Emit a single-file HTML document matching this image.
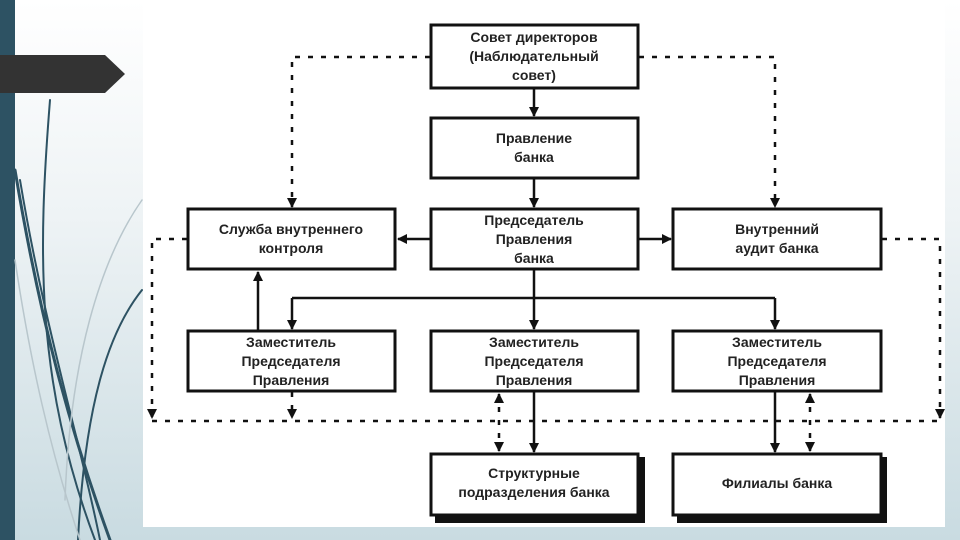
<!DOCTYPE html>
<html><head><meta charset="utf-8"><style>
html,body{margin:0;padding:0;width:960px;height:540px;overflow:hidden}
body{background:linear-gradient(#ffffff 0%,#eef3f5 40%,#c9dbe1 100%);position:relative;font-family:"Liberation Sans","DejaVu Sans",sans-serif}
</style></head><body>
<svg width="960" height="540" viewBox="0 0 960 540" style="position:absolute;left:0;top:0">
<defs>
<marker id="a" viewBox="0 0 10 10" refX="9" refY="5" markerWidth="4" markerHeight="4" orient="auto-start-reverse"><path d="M0,0L10,5L0,10z" fill="#111"/></marker>
</defs>
<rect x="0" y="0" width="15" height="540" fill="#2d5263"/>
<g fill="none" stroke-linecap="round">
<path d="M50,100 C38,250 35,380 95,540" stroke="#2d5263" stroke-width="2"/>
<path d="M15,170 C40,320 70,430 110,540" stroke="#2d5263" stroke-width="3"/>
<path d="M20,180 C45,330 80,440 100,540" stroke="#2d5263" stroke-width="2"/>
<path d="M142,290 C110,330 85,400 78,540" stroke="#2d5263" stroke-width="2"/>
<path d="M142,200 C100,260 70,360 65,500" stroke="#b8c6cc" stroke-width="1.5"/>
<path d="M15,260 C30,360 50,450 80,540" stroke="#b8c6cc" stroke-width="1.5"/>
</g>
<path d="M0,55 H105 L125,74 L105,93 H0 Z" fill="#333"/>
<rect x="143" y="0" width="802" height="527" fill="#fff"/>
<g fill="#111">
<rect x="435" y="457" width="210" height="66"/>
<rect x="677" y="457" width="210" height="66"/>
</g>
<g fill="#fff" stroke="#111" stroke-width="3">
<rect x="431" y="25" width="207" height="63"/>
<rect x="431" y="118" width="207" height="60"/>
<rect x="188" y="209" width="207" height="60"/>
<rect x="431" y="209" width="207" height="60"/>
<rect x="673" y="209" width="208" height="60"/>
<rect x="188" y="331" width="207" height="60"/>
<rect x="431" y="331" width="207" height="60"/>
<rect x="673" y="331" width="208" height="60"/>
<rect x="431" y="454" width="207" height="61"/>
<rect x="673" y="454" width="208" height="61"/>
</g>
<g stroke="#111" stroke-width="2.5" fill="none" marker-end="url(#a)">
<path d="M534,89 V116"/>
<path d="M534,179 V207"/>
<path d="M430,239 H398"/>
<path d="M639,239 H671"/>
<path d="M258,330 V272"/>
<path d="M292,298 V329"/>
<path d="M775,298 V329"/>
<path d="M534,270 V329"/>
<path d="M534,392 V452"/>
<path d="M775,392 V452"/>
</g>
<path d="M292,298 H775" stroke="#111" stroke-width="2.5"/>
<g stroke="#111" stroke-width="2.5" fill="none" stroke-dasharray="5,8">
<path d="M430,57 H292 V207" marker-end="url(#a)"/>
<path d="M639,57 H775 V207" marker-end="url(#a)"/>
<path d="M187,239 H152 V418" marker-end="url(#a)"/>
<path d="M882,239 H940 V418" marker-end="url(#a)"/>
<path d="M152,421 H940"/>
<path d="M292,392 V418" marker-end="url(#a)"/>
<path d="M499,394 V451" marker-start="url(#a)" marker-end="url(#a)"/>
<path d="M810,394 V451" marker-start="url(#a)" marker-end="url(#a)"/>
</g>
<g font-family="Liberation Sans, DejaVu Sans, sans-serif" font-weight="bold" font-size="14" fill="#222" text-anchor="middle">
<text x="534" y="42">Совет директоров</text>
<text x="534" y="61">(Наблюдательный</text>
<text x="534" y="80">совет)</text>
<text x="534" y="143">Правление</text>
<text x="534" y="162">банка</text>
<text x="291" y="234">Служба внутреннего</text>
<text x="291" y="253">контроля</text>
<text x="534" y="225">Председатель</text>
<text x="534" y="244">Правления</text>
<text x="534" y="263">банка</text>
<text x="777" y="234">Внутренний</text>
<text x="777" y="253">аудит банка</text>
<text x="291" y="347">Заместитель</text>
<text x="291" y="366">Председателя</text>
<text x="291" y="385">Правления</text>
<text x="534" y="347">Заместитель</text>
<text x="534" y="366">Председателя</text>
<text x="534" y="385">Правления</text>
<text x="777" y="347">Заместитель</text>
<text x="777" y="366">Председателя</text>
<text x="777" y="385">Правления</text>
<text x="534" y="478">Структурные</text>
<text x="534" y="497">подразделения банка</text>
<text x="777" y="488">Филиалы банка</text>
</g>
</svg>
</body></html>
